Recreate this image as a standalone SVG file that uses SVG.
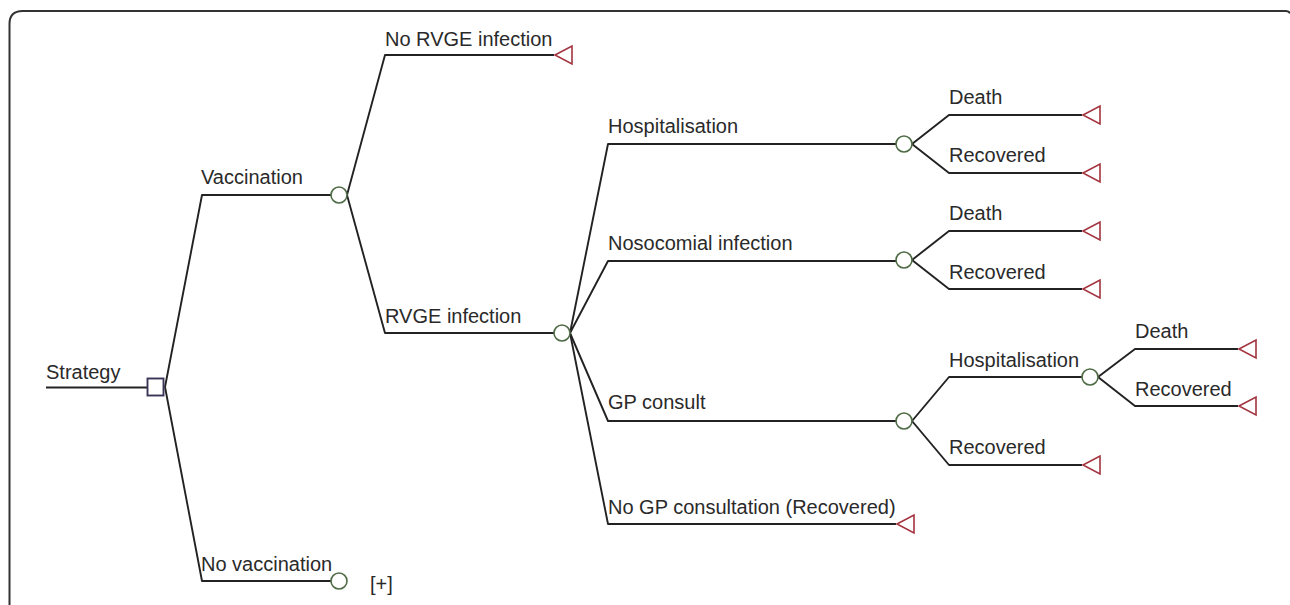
<svg xmlns="http://www.w3.org/2000/svg" width="1290" height="605" viewBox="0 0 1290 605">
<style>
text{font-family:"Liberation Sans",Arial,sans-serif;font-size:20px;fill:#2a2a2a}
.l{fill:none;stroke:#222;stroke-width:1.9;stroke-linejoin:round}
.c{fill:#fff;stroke:#4f6b45;stroke-width:1.6}
.s{fill:#fff;stroke:#3b3358;stroke-width:1.9}
.t{fill:#fff;stroke:#a3343f;stroke-width:1.6;stroke-linejoin:miter}
.f{fill:none;stroke:#333;stroke-width:2}
</style>
<rect width="1290" height="605" fill="#fff"/>
<path class="f" d="M9.500 605V24Q9.500 11 22.500 11H1286Q1289 11 1290 13.500"/>
<g id="connectors">
<path class="l" d="M46 387.500H147"/>
<path class="l" d="M165 387L202 195H331"/>
<path class="l" d="M165 387L202 581H331"/>
<path class="l" d="M347 195L385 55H554"/>
<path class="l" d="M347 195L385 333H554"/>
<path class="l" d="M570 333L608 144H896"/>
<path class="l" d="M570 333L608 261H896"/>
<path class="l" d="M570 333L608 421H896"/>
<path class="l" d="M570 333L608 524H896"/>
<path class="l" d="M912 144L949 115H1082"/>
<path class="l" d="M912 144L949 173H1082"/>
<path class="l" d="M912 260L949 231H1082"/>
<path class="l" d="M912 260L949 289H1082"/>
<path class="l" d="M912 421L949 377H1082"/>
<path class="l" d="M912 421L949 465H1082"/>
<path class="l" d="M1098 377L1135 349H1238"/>
<path class="l" d="M1098 377L1135 406H1238"/>
</g>
<g id="strategy"><rect class="s" x="147.500" y="378.500" width="16" height="17"/><text x="46" y="379">Strategy</text></g>
<g id="vaccination"><circle class="c" cx="339" cy="195" r="8"/><text x="201" y="184">Vaccination</text></g>
<g id="no-vaccination"><circle class="c" cx="339" cy="581" r="8"/><text x="201" y="571">No vaccination</text><text x="370" y="591">[+]</text></g>
<g id="no-rvge"><path class="t" d="M555 55L572 46V64Z"/><text x="385" y="46">No RVGE infection</text></g>
<g id="rvge"><circle class="c" cx="562" cy="333" r="8"/><text x="385" y="323">RVGE infection</text></g>
<g id="hosp"><circle class="c" cx="904" cy="144" r="8"/><text x="608" y="133">Hospitalisation</text></g>
<g id="hosp-death"><path class="t" d="M1083 115L1100 106V124Z"/><text x="949" y="104">Death</text></g>
<g id="hosp-rec"><path class="t" d="M1083 173L1100 164V182Z"/><text x="949" y="162">Recovered</text></g>
<g id="noso"><circle class="c" cx="904" cy="260" r="8"/><text x="608" y="250">Nosocomial infection</text></g>
<g id="noso-death"><path class="t" d="M1083 231L1100 222V240Z"/><text x="949" y="220">Death</text></g>
<g id="noso-rec"><path class="t" d="M1083 289L1100 280V298Z"/><text x="949" y="279">Recovered</text></g>
<g id="gp"><circle class="c" cx="904" cy="421" r="8"/><text x="608" y="409">GP consult</text></g>
<g id="gp-hosp"><circle class="c" cx="1090" cy="377" r="8"/><text x="949" y="367">Hospitalisation</text></g>
<g id="gp-hosp-death"><path class="t" d="M1239 349L1256 340V358Z"/><text x="1135" y="338">Death</text></g>
<g id="gp-hosp-rec"><path class="t" d="M1239 406L1256 397V415Z"/><text x="1135" y="396">Recovered</text></g>
<g id="gp-rec"><path class="t" d="M1083 465L1100 456V474Z"/><text x="949" y="454">Recovered</text></g>
<g id="no-gp"><path class="t" d="M897 524L914 515V533Z"/><text x="608" y="514">No GP consultation (Recovered)</text></g>
</svg>
